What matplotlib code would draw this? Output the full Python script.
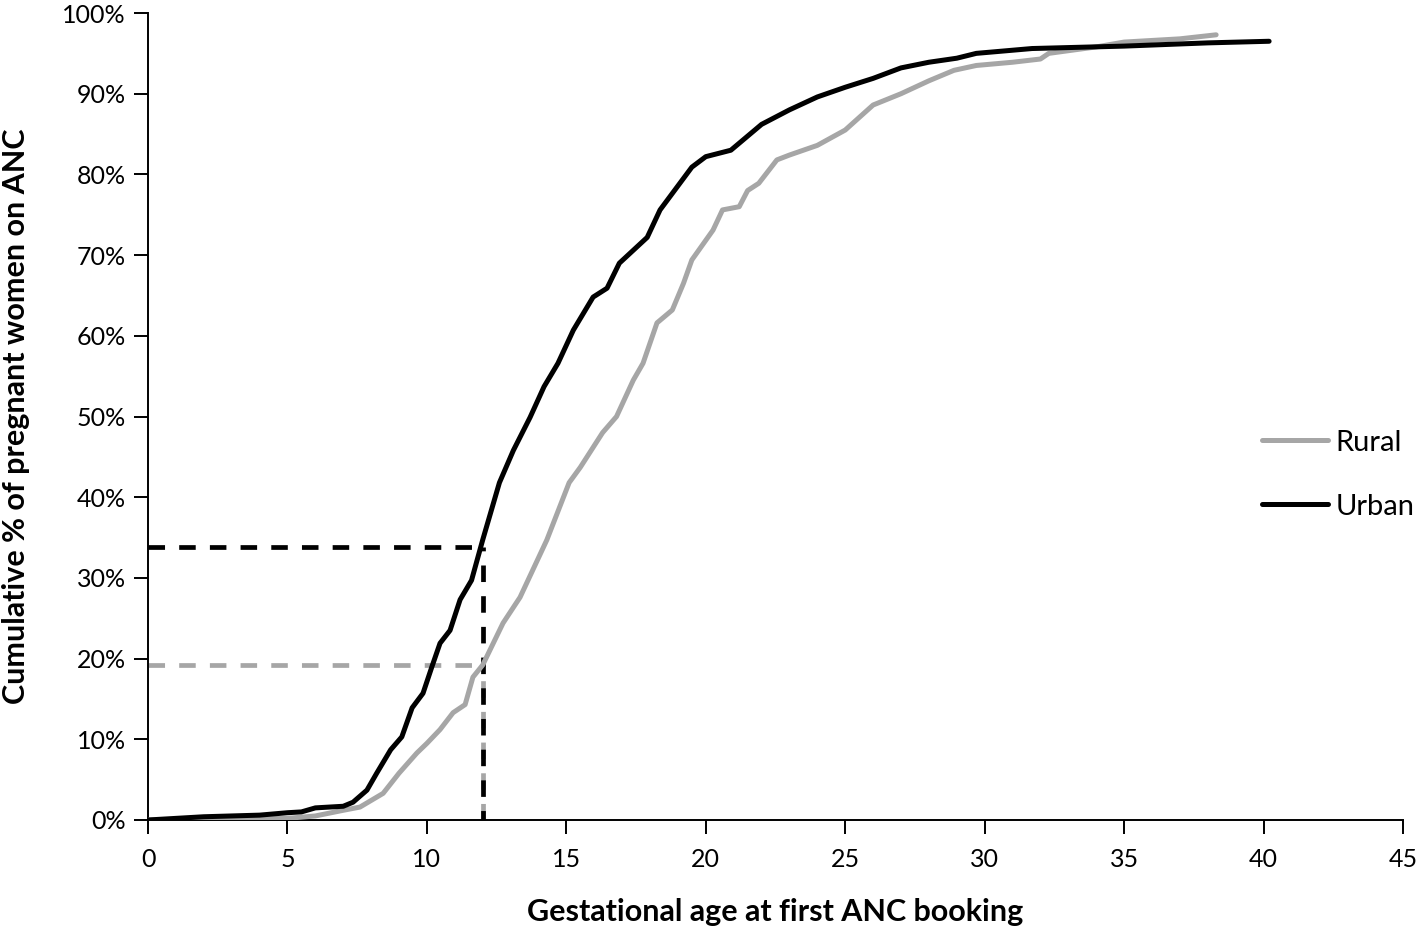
import matplotlib.pyplot as plt
from matplotlib.ticker import FuncFormatter

plt.rcParams['font.family'] = ['Lato', 'DejaVu Sans']

# cumulative share of pregnant women on ANC by gestational age (weeks)
urban_weeks = [0, 2, 4, 5, 5.5, 6, 7, 7.35, 7.85, 8.2, 8.7, 9.1, 9.47, 9.86, 10.18,
               10.47, 10.83, 11.19, 11.6, 12.0, 12.6, 13.1, 13.7, 14.2, 14.7, 15.25,
               15.96, 16.46, 16.9, 17.4, 17.9, 18.36, 19.07, 19.5, 20.0, 20.9, 22,
               23, 24, 25, 26, 27, 28, 29, 29.7, 31.7, 35, 38, 40.2]
urban_pct = [0, 0.4, 0.6, 0.9, 1.0, 1.5, 1.7, 2.2, 3.7, 5.8, 8.7, 10.3, 13.9, 15.7,
             19.0, 21.9, 23.5, 27.3, 29.7, 34.7, 41.8, 45.8, 49.9, 53.7, 56.6, 60.7,
             64.8, 65.9, 69.0, 70.6, 72.2, 75.6, 78.9, 80.9, 82.2, 83.0, 86.2, 88.0,
             89.6, 90.8, 91.9, 93.2, 93.9, 94.4, 95.0, 95.6, 95.9, 96.3, 96.5]

rural_weeks = [0, 3, 5, 6, 7, 7.6, 8.43, 9.0, 9.64, 10.0, 10.47, 10.94, 11.37, 11.65,
               12.0, 12.73, 13.34, 14.3, 15.1, 15.5, 16.3, 16.8, 17.4, 17.75, 18.25,
               18.8, 19.2, 19.5, 20.26, 20.6, 21.2, 21.5, 21.9, 22.55, 23, 24, 25,
               26, 27, 28, 28.9, 29.7, 31, 32, 32.3, 34, 35, 37, 38.3]
rural_pct = [0, 0.1, 0.2, 0.5, 1.2, 1.6, 3.3, 5.8, 8.3, 9.5, 11.2, 13.3, 14.3, 17.7,
             19.2, 24.4, 27.6, 34.7, 41.8, 43.7, 48.0, 50.0, 54.5, 56.6, 61.6, 63.2,
             66.5, 69.4, 73.1, 75.6, 76.0, 78.0, 78.9, 81.8, 82.4, 83.6, 85.5, 88.6,
             90.0, 91.6, 92.9, 93.5, 93.9, 94.3, 95.0, 95.8, 96.4, 96.8, 97.3]

cutoff_week = 12
urban_at_cutoff = 33.8
rural_at_cutoff = 19.2

grey = '#a6a6a6'

fig = plt.figure(figsize=(14.18, 9.30), dpi=100)
ax = fig.add_axes([0.1044, 0.1183, 0.8850, 0.8677])

# reference lines at 12 weeks
ax.plot([0, cutoff_week], [rural_at_cutoff, rural_at_cutoff], color=grey, lw=3.4,
        ls=(0, (3.5, 3)), zorder=2)
ax.plot([cutoff_week, cutoff_week], [0, rural_at_cutoff], color=grey, lw=3.4,
        ls=(0, (3.5, 3)), zorder=2)
ax.plot([0, cutoff_week], [urban_at_cutoff, urban_at_cutoff], color='black', lw=3.4,
        ls=(0, (3.5, 3)), zorder=3)
ax.plot([cutoff_week, cutoff_week], [0, urban_at_cutoff], color='black', lw=3.4,
        ls=(1.5, (3.5, 3)), zorder=3)

ax.plot(rural_weeks, rural_pct, color=grey, lw=3.6, label='Rural', zorder=4,
        solid_capstyle='round')
ax.plot(urban_weeks, urban_pct, color='black', lw=3.6, label='Urban', zorder=5,
        solid_capstyle='round')

ax.set_xlim(0, 45)
ax.set_ylim(0, 100)
ax.set_xticks(range(0, 46, 5))
ax.set_yticks(range(0, 101, 10))
ax.yaxis.set_major_formatter(FuncFormatter(lambda v, p: '{:d}%'.format(int(v))))

for side in ['top', 'right']:
    ax.spines[side].set_visible(False)
for side in ['left', 'bottom']:
    ax.spines[side].set_linewidth(1.4)

ax.tick_params(axis='both', direction='out', length=10, width=1.4, labelsize=18)
ax.tick_params(axis='x', pad=10)
ax.tick_params(axis='y', pad=6)

ax.set_xlabel('Gestational age at first ANC booking', fontsize=22, fontweight='bold')
ax.set_ylabel('Cumulative % of pregnant women on ANC', fontsize=22, fontweight='bold')
ax.xaxis.set_label_coords(0.5, -0.097)
ax.yaxis.set_label_coords(-0.094, 0.5)

ax.legend(loc='center left', bbox_to_anchor=(0.888, 0.428), frameon=False,
          fontsize=21, handlelength=2.25, handletextpad=0.25, labelspacing=1.3,
          borderaxespad=0, borderpad=0)

fig.savefig('out.png', dpi=100)
